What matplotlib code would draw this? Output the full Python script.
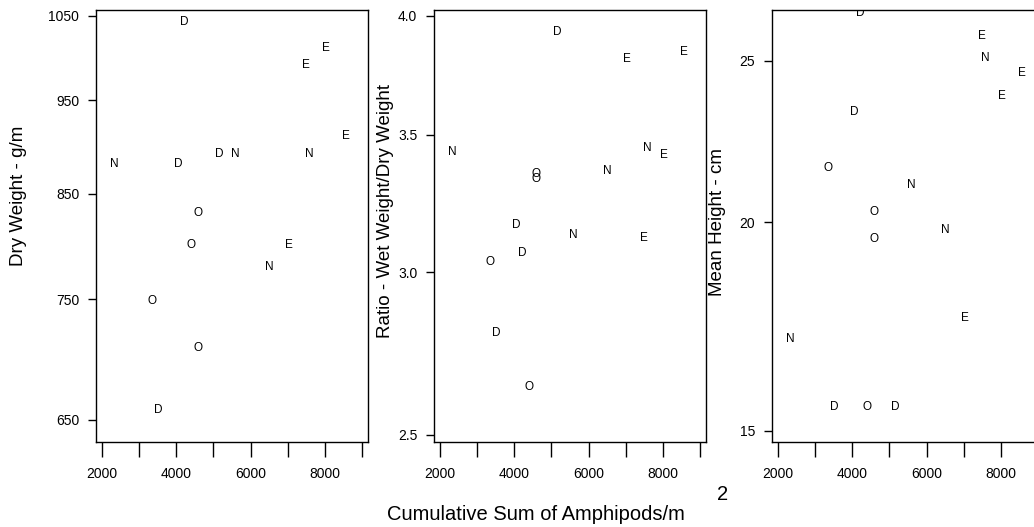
import matplotlib
matplotlib.use('Agg')
import matplotlib.pyplot as plt

# site code per sample, plotted as letters
site = ['N', 'O', 'D', 'D', 'D', 'O', 'O', 'O', 'D', 'N', 'N', 'E', 'E', 'N', 'E', 'E']
amphipods = [2340, 3350, 3520, 4050, 4210, 4385, 4580, 4580, 5160, 5590,
             6505, 7035, 7495, 7570, 8030, 8570]
dry_weight = [881, 749, 658, 881, 1042, 800, 831, 708, 891, 891,
              779, 800, 991, 891, 1011, 911]
ratio = [3.432, 3.036, 2.804, 3.163, 3.065, 2.639, 3.350, 3.330, 3.928, 3.129,
         3.362, 3.812, 3.119, 3.451, 3.422, 3.843]
height = [17.02, 21.57, 15.50, 23.31, 26.7, 15.50, 20.30, 19.56, 15.50, 21.07,
          19.79, 17.52, 25.88, 25.11, 23.82, 24.60]

x_ticks = [2000, 3000, 4000, 5000, 6000, 7000, 8000, 9000]
x_ticklabels = ['2000', '', '4000', '', '6000', '', '8000', '']

panels = [
    (dry_weight, [650, 750, 850, 950, 1050], ['650', '750', '850', '950', '1050'], (633.2, 1057.5)),
    (ratio, [2.5, 3.0, 3.5, 4.0], ['2.5', '3.0', '3.5', '4.0'], (2.480, 4.027)),
    (height, [15, 20, 25], ['15', '20', '25'], (14.77, 26.82)),
]
ylabels = ['Dry Weight - g/m', 'Ratio - Wet Weight/Dry Weight', 'Mean Height - cm']

plt.rcParams['font.family'] = ['Liberation Sans', 'DejaVu Sans']

W, H = 1034, 527
fig = plt.figure(figsize=(W / 100, H / 100), dpi=100)
fig.patch.set_facecolor('white')

lefts = [96, 434, 772]
for (vals, yt, ytl, ylim), left in zip(panels, lefts):
    ax = fig.add_axes([left / W, (H - 442) / H, 272 / W, 432 / H])
    ax.set_yscale('log')
    ax.set_xlim(1840, 9160)
    ax.set_ylim(*ylim)
    for xv, yv, s in zip(amphipods, vals, site):
        ax.text(xv, yv, s, ha='center', va='center', fontsize=8.5, clip_on=True)
    ax.set_xticks(x_ticks)
    ax.set_xticklabels(x_ticklabels)
    ax.set_yticks(yt)
    ax.set_yticklabels(ytl)
    ax.minorticks_off()
    ax.tick_params(axis='x', length=11, width=1, pad=7, labelsize=10)
    ax.tick_params(axis='y', length=6, width=1, pad=6, labelsize=10)
    for sp in ax.spines.values():
        sp.set_linewidth(1.0)

ylabel_pos = [(19, 196), (385, 211), (718, 222)]
for text, (px, py) in zip(ylabels, ylabel_pos):
    fig.text(px / W, 1 - py / H, text, rotation=90, ha='center', va='center', fontsize=13.5)

fig.text(536 / W, 1 - 514 / H, 'Cumulative Sum of Amphipods/m', ha='center', va='center', fontsize=14.5)
fig.text(723 / W, 1 - 494 / H, '2', ha='center', va='center', fontsize=14.5)

fig.savefig('out.png', dpi=100, facecolor='white')
